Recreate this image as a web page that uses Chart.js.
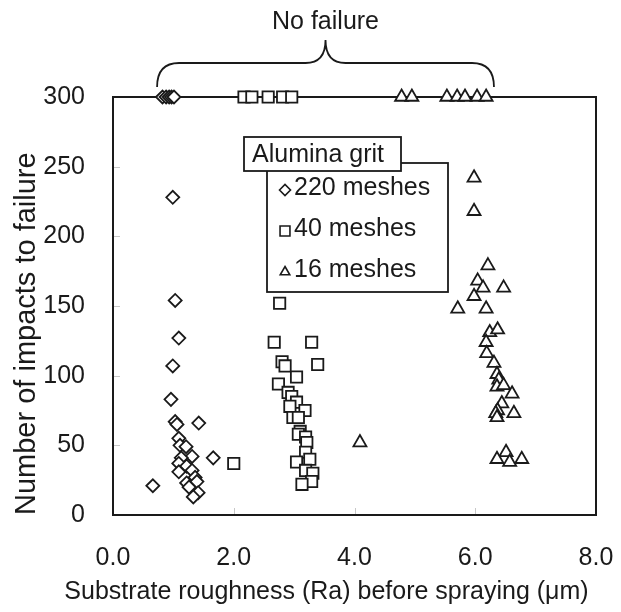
<!DOCTYPE html>
<html>
<head>
<meta charset="utf-8">
<script src="https://cdn.jsdelivr.net/npm/chart.js@4"></script>
<style>
  body { margin: 0; background: #fff; }
  canvas { display: block; }
</style>
</head>
<body>
<canvas id="chartRoughness" width="621" height="612"></canvas>
<script>
// roughness (um) and impacts for each grit size
const rough220 = [0.82, 0.88, 0.93, 0.97, 1.01, 0.99, 1.03, 1.09, 0.99, 0.96, 1.03, 1.06, 1.42, 1.09, 1.11, 1.21, 1.31, 1.66, 1.13, 1.09, 1.22, 1.09, 1.31, 1.22, 1.36, 1.39, 0.66, 1.41, 1.33, 1.26];
const impacts220 = [300, 300, 300, 300, 300, 228, 154, 127, 107, 83, 67, 65, 66, 55, 50, 49, 42, 41, 41, 37, 35, 31, 32, 23, 27, 24, 21, 16, 13, 20];

const rough40 = [2.17, 2.30, 2.57, 2.81, 2.96, 2.76, 2.67, 3.29, 2.80, 3.39, 2.85, 3.04, 2.74, 2.90, 2.96, 3.04, 2.93, 3.18, 2.98, 3.07, 3.10, 3.07, 3.19, 3.21, 3.19, 3.26, 3.04, 3.19, 3.31, 3.29, 3.13, 2.00];
const impacts40 = [300, 300, 300, 300, 300, 152, 124, 124, 110, 108, 107, 99, 94, 88, 85, 81, 78, 75, 70, 70, 60, 58, 56, 52, 45, 40, 38, 32, 30, 24, 22, 37];

const rough16 = [4.78, 4.95, 5.53, 5.70, 5.83, 6.03, 6.18, 5.98, 5.98, 6.21, 6.04, 6.13, 6.47, 5.98, 5.71, 6.18, 6.24, 6.37, 6.18, 6.19, 6.31, 6.36, 6.39, 6.36, 6.47, 6.61, 6.44, 6.37, 6.34, 6.64, 6.36, 6.51, 6.36, 6.57, 6.77, 4.09];
const impacts16 = [300, 300, 300, 300, 300, 300, 300, 242, 218, 179, 168, 163, 163, 157, 148, 148, 131, 133, 124, 116, 109, 101, 97, 92, 93, 87, 80, 75, 73, 73, 70, 45, 40, 38, 40, 52];

const seriesLabels = ['220 meshes', '40 meshes', '16 meshes'];
const seriesStyles = ['rectRot', 'rect', 'triangle'];
const xTicks = [0, 2, 4, 6, 8];
const yTicks = [0, 50, 100, 150, 200, 250, 300];
const xTitle = 'Substrate roughness (Ra) before spraying (μm)';

const FONT = "'Liberation Sans', Arial, sans-serif";
const INK = '#1a1a1a';

function pts(xs, ys) {
  return xs.map((x, i) => ({ x: x, y: ys[i] }));
}

// black frame around the plot + the faint inner tick marks
const framePlugin = {
  id: 'frame',
  beforeDatasetsDraw(chart) {
    const { ctx, chartArea: a, scales } = chart;
    ctx.save();
    ctx.strokeStyle = '#c8c8c8';
    ctx.lineWidth = 1;
    yTicks.slice(1, -1).forEach(v => {
      const y = Math.round(scales.y.getPixelForValue(v)) + 0.5;
      ctx.beginPath(); ctx.moveTo(a.left, y); ctx.lineTo(a.left + 7, y); ctx.stroke();
    });
    xTicks.slice(1, -1).forEach(v => {
      const x = Math.round(scales.x.getPixelForValue(v)) + 0.5;
      ctx.beginPath(); ctx.moveTo(x, a.bottom); ctx.lineTo(x, a.bottom - 7); ctx.stroke();
    });
    ctx.strokeStyle = INK;
    ctx.lineWidth = 2;
    ctx.strokeRect(a.left, a.top, a.right - a.left, a.bottom - a.top);
    ctx.restore();
  }
};

// boxed legend ("Alumina grit"), the "No failure" brace and the x title
// (the x title is wider than the plot, so Chart.js would squeeze it)
const notesPlugin = {
  id: 'notes',
  afterDraw(chart) {
    const { ctx, chartArea: a, scales } = chart;
    ctx.save();
    ctx.strokeStyle = INK;
    ctx.fillStyle = INK;
    ctx.lineWidth = 1.8;

    // brace over the y = 300 points
    const x0 = scales.x.getPixelForValue(0.73);
    const x1 = scales.x.getPixelForValue(6.31);
    const xm = (x0 + x1) / 2;
    const yb = a.top - 10, yh = a.top - 34, yt = a.top - 57;
    ctx.beginPath();
    ctx.moveTo(x0, yb);
    ctx.quadraticCurveTo(x0, yh, x0 + 22, yh);
    ctx.lineTo(xm - 20, yh);
    ctx.quadraticCurveTo(xm, yh, xm, yt);
    ctx.quadraticCurveTo(xm, yh, xm + 20, yh);
    ctx.lineTo(x1 - 22, yh);
    ctx.quadraticCurveTo(x1, yh, x1, yb);
    ctx.stroke();

    ctx.font = '25px ' + FONT;
    ctx.textAlign = 'center';
    ctx.textBaseline = 'alphabetic';
    ctx.fillText('No failure', xm, a.top - 68);

    // x axis title
    ctx.fillText(xTitle, (a.left + a.right) / 2 - 28, a.bottom + 84);

    // legend boxes
    const bx = a.left + 154, by = a.top + 66;
    ctx.fillStyle = '#fff';
    ctx.fillRect(bx, by, 181, 129);
    ctx.strokeRect(bx, by, 181, 129);
    const tx = a.left + 131, ty = a.top + 40;
    ctx.fillRect(tx, ty, 157, 34);
    ctx.strokeRect(tx, ty, 157, 34);

    ctx.fillStyle = INK;
    ctx.textAlign = 'left';
    ctx.fillText('Alumina grit', tx + 8, ty + 25);
    chart.data.datasets.forEach((ds, i) => {
      const cy = by + 27 + i * 41;
      ctx.lineWidth = 1.6;
      ctx.fillStyle = '#fff';
      Chart.helpers.drawPoint(ctx, { pointStyle: ds.pointStyle, radius: ds.pointStyle === 'rect' ? 7 : 5.5, rotation: 0, borderWidth: 1.6 }, bx + 18, cy);
      ctx.fillStyle = INK;
      ctx.fillText(ds.label, bx + 27, cy + 5);
    });
    ctx.restore();
  }
};

const datasets = [pts(rough220, impacts220), pts(rough40, impacts40), pts(rough16, impacts16)].map((d, i) => ({
  label: seriesLabels[i],
  data: d,
  pointStyle: seriesStyles[i],
  pointRadius: [6.5, 8, 7.5][i],
  pointBackgroundColor: '#fff',
  pointBorderColor: INK,
  pointBorderWidth: 1.8,
  clip: false
}));

new Chart(document.getElementById('chartRoughness'), {
  type: 'scatter',
  data: { datasets: datasets },
  options: {
    responsive: false,
    animation: false,
    layout: { padding: { top: 97, right: 25, bottom: 0, left: 0 } },
    plugins: { legend: { display: false }, tooltip: { enabled: false } },
    scales: {
      x: {
        min: 0, max: 8,
        afterFit(scale) {
          scale.height = 97;
          scale.paddingLeft = 0;
          scale.paddingRight = 0;
        },
        afterBuildTicks(scale) { scale.ticks = xTicks.map(v => ({ value: v })); },
        grid: { display: false },
        border: { display: false },
        ticks: {
          padding: 20,
          color: INK,
          font: { family: FONT, size: 25 },
          callback: v => Number(v).toFixed(1)
        },
        title: { display: false }
      },
      y: {
        min: 0, max: 300,
        afterFit(scale) {
          scale.width = 113;
          scale.paddingTop = 0;
          scale.paddingBottom = 0;
        },
        afterBuildTicks(scale) { scale.ticks = yTicks.map(v => ({ value: v })); },
        grid: { display: false },
        border: { display: false },
        ticks: {
          padding: 20,
          color: INK,
          font: { family: FONT, size: 25 }
        },
        title: {
          display: true,
          text: 'Number of impacts to failure',
          align: 'start',
          color: INK,
          font: { family: FONT, size: 29 },
          padding: { top: 10, bottom: 0 }
        }
      }
    }
  },
  plugins: [framePlugin, notesPlugin]
});
</script>
</body>
</html>
